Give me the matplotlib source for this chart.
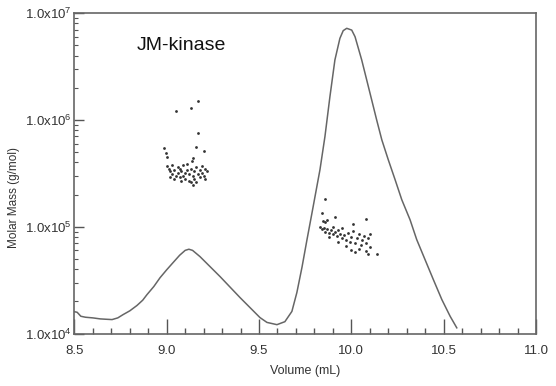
import numpy as np
import matplotlib
matplotlib.use("Agg")
import matplotlib.pyplot as plt
from matplotlib.ticker import FixedLocator, FixedFormatter, LogLocator, NullFormatter, MultipleLocator

plt.rcParams['font.family'] = ['Liberation Sans', 'DejaVu Sans']
plt.rcParams['mathtext.fontset'] = 'custom'
plt.rcParams['mathtext.rm'] = 'Liberation Sans'
plt.rcParams['mathtext.it'] = 'Liberation Sans'

# elution trace (volume in mL, molar mass axis scale)
trace_vol = [8.50, 8.515, 8.535, 8.56, 8.60, 8.64, 8.67, 8.704, 8.735, 8.763, 8.80,
             8.839, 8.87, 8.893, 8.93, 8.964, 9.00, 9.034, 9.07, 9.10, 9.12, 9.14,
             9.18, 9.289, 9.397, 9.505, 9.543, 9.597, 9.64, 9.678, 9.705, 9.733,
             9.76, 9.787, 9.83, 9.857, 9.884, 9.911, 9.938, 9.956, 9.975, 10.002,
             10.02, 10.056, 10.083, 10.11, 10.137, 10.165, 10.20, 10.237, 10.273,
             10.318, 10.354, 10.399, 10.444, 10.49, 10.535, 10.571]
trace_mass = [1.6e4, 1.58e4, 1.45e4, 1.42e4, 1.40e4, 1.37e4, 1.36e4, 1.35e4, 1.40e4,
              1.50e4, 1.63e4, 1.83e4, 2.05e4, 2.31e4, 2.75e4, 3.33e4, 3.95e4, 4.6e4,
              5.4e4, 6.0e4, 6.15e4, 6.0e4, 5.25e4, 3.41e4, 2.17e4, 1.41e4, 1.27e4,
              1.21e4, 1.29e4, 1.61e4, 2.42e4, 4.2e4, 7.6e4, 1.35e5, 3.41e5, 6.98e5,
              1.65e6, 3.64e6, 5.79e6, 6.84e6, 7.19e6, 6.92e6, 6.0e6, 3.64e6, 2.37e6,
              1.54e6, 1.0e6, 6.5e5, 4.23e5, 2.75e5, 1.79e5, 1.16e5, 7.57e4, 4.92e4,
              3.2e4, 2.08e4, 1.45e4, 1.13e4]

# molar mass points, first peak
p1_vol = [9.05, 9.13, 9.17, 9.17, 8.985, 8.995, 9.00, 9.16, 9.20, 9.14, 9.135,
          9.00, 9.01, 9.02, 9.03, 9.04, 9.05, 9.06, 9.06, 9.07, 9.08, 9.09, 9.09,
          9.10, 9.11, 9.12, 9.12, 9.13, 9.14, 9.15, 9.15, 9.16, 9.17, 9.18, 9.18,
          9.19, 9.20, 9.21, 9.21, 9.22, 9.02, 9.04, 9.07, 9.10, 9.13, 9.14, 9.11,
          9.03, 9.16, 9.19, 9.08]
p1_mass = [1.2e6, 1.3e6, 1.5e6, 7.5e5, 5.4e5, 4.9e5, 4.5e5, 5.6e5, 5.1e5, 4.4e5, 4.1e5,
           3.7e5, 3.5e5, 3.3e5, 3.1e5, 3.4e5, 3.0e5, 3.2e5, 3.6e5, 2.9e5, 3.3e5, 3.0e5,
           3.8e5, 2.8e5, 3.4e5, 3.1e5, 2.7e5, 3.5e5, 3.0e5, 3.3e5, 2.8e5, 3.6e5, 3.1e5,
           2.9e5, 3.4e5, 3.2e5, 3.0e5, 3.5e5, 2.8e5, 3.3e5, 2.9e5, 2.8e5, 3.5e5, 3.2e5,
           2.6e5, 2.45e5, 3.9e5, 3.8e5, 2.6e5, 3.7e5, 2.7e5]

# molar mass points, second peak
p2_vol = [9.86, 9.84, 9.91, 9.845, 9.855, 10.08, 10.01, 9.87,
          9.83, 9.84, 9.85, 9.86, 9.87, 9.88, 9.89, 9.90, 9.90, 9.91, 9.92, 9.93,
          9.94, 9.95, 9.95, 9.96, 9.97, 9.98, 9.99, 10.00, 10.01, 10.02, 10.03,
          10.04, 10.05, 10.06, 10.07, 10.08, 10.09, 10.10, 10.10, 9.97, 9.93, 9.88,
          10.04, 10.08, 10.09, 10.14, 10.00, 10.02]
p2_mass = [1.8e5, 1.35e5, 1.22e5, 1.12e5, 1.1e5, 1.17e5, 1.05e5, 1.15e5,
           1.0e5, 9.5e4, 9.8e4, 9.0e4, 9.6e4, 8.8e4, 9.3e4, 8.5e4, 1.0e5, 9.0e4,
           8.2e4, 9.4e4, 8.6e4, 7.8e4, 9.7e4, 8.3e4, 7.5e4, 8.8e4, 7.2e4, 8.0e4,
           9.2e4, 7.0e4, 7.8e4, 8.5e4, 6.8e4, 7.5e4, 8.2e4, 7.0e4, 7.8e4, 6.5e4,
           8.6e4, 6.6e4, 7.2e4, 8.0e4, 6.2e4, 5.9e4, 5.6e4, 5.5e4, 6.0e4, 5.8e4]

y_ticks = [1e4, 1e5, 1e6, 1e7]
y_labels = ['1.0x10$^{4}$', '1.0x10$^{5}$', '1.0x10$^{6}$', '1.0x10$^{7}$']
x_ticks = [8.5, 9.0, 9.5, 10.0, 10.5, 11.0]
x_labels = ['8.5', '9.0', '9.5', '10.0', '10.5', '11.0']

fig = plt.figure(figsize=(5.56, 3.86), dpi=100)
ax = fig.add_axes([0.1338, 0.136, 0.8302, 0.8303])

ax.plot(trace_vol, trace_mass, color='#666666', lw=1.1)
ax.scatter(p1_vol, p1_mass, s=4, color='#333333', linewidths=0)
ax.scatter(p2_vol, p2_mass, s=4, color='#333333', linewidths=0)

ax.set_yscale('log')
ax.set_xlim(8.5, 11.0)
ax.set_ylim(1e4, 1e7)

ax.xaxis.set_major_locator(FixedLocator(x_ticks))
ax.xaxis.set_major_formatter(FixedFormatter(x_labels))
ax.xaxis.set_minor_locator(MultipleLocator(0.1))
ax.yaxis.set_major_locator(FixedLocator(y_ticks))
ax.yaxis.set_major_formatter(FixedFormatter(y_labels))
ax.yaxis.set_minor_locator(LogLocator(base=10, subs=np.arange(2, 10)))
ax.yaxis.set_minor_formatter(NullFormatter())

ax.tick_params(axis='x', which='major', direction='in', length=11, width=1,
               color='#555555', labelsize=9.5, labelcolor='#333333', pad=8)
ax.tick_params(axis='x', which='minor', direction='in', length=4, width=1, color='#555555')
ax.tick_params(axis='y', which='major', direction='in', length=7, width=1,
               color='#555555', labelsize=9.5, labelcolor='#333333', pad=2)
ax.tick_params(axis='y', which='minor', direction='in', length=3, width=0.8, color='#555555')

for s in ax.spines.values():
    s.set_color('#666666')
    s.set_linewidth(1.2)

ax.set_xlabel('Volume (mL)', fontsize=9, color='#333333', labelpad=6)
fig.text(14 / 556, 1 - 197 / 386, 'Molar Mass (g/mol)', rotation=90, fontsize=8.5,
         color='#333333', ha='center', va='center')

ax.text(8.84, 10 ** 6.70, 'JM-kinase', fontsize=14, color='#111111', va='center', ha='left')

fig.savefig('out.png', dpi=100)
